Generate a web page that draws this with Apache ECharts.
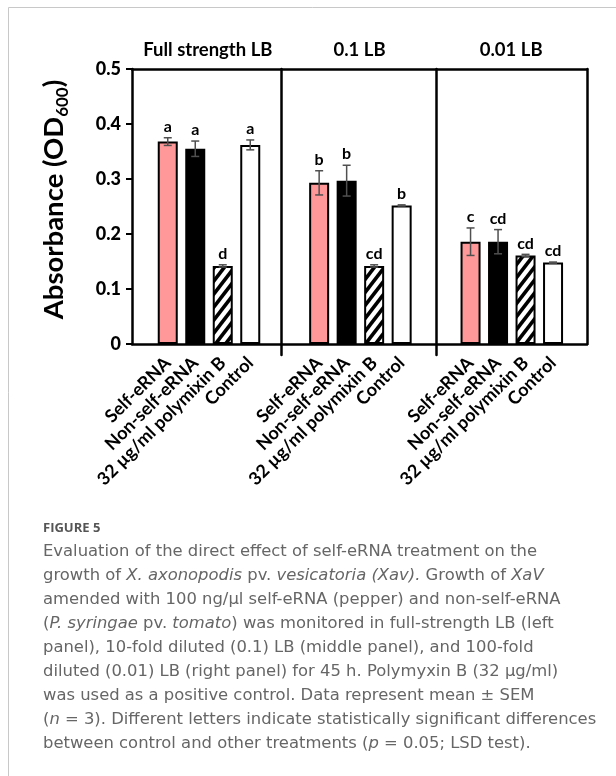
<!DOCTYPE html>
<html>
<head>
<meta charset="utf-8">
<script src="https://cdn.jsdelivr.net/npm/echarts@6/dist/echarts.min.js"></script>
<style>html,body{margin:0;padding:0;background:#fff;}#c{width:616px;height:776px;}</style>
</head>
<body>
<div id="c"></div>
<script>
const panels = ['Full strength LB', '0.1 LB', '0.01 LB'];
const treatments = ['Self-eRNA', 'Non-self-eRNA', '32 µg/ml polymixin B', 'Control'];
const fullLB = [0.368, 0.355, 0.142, 0.362];
const fullLBErr = [0.007, 0.014, 0.002, 0.009];
const fullLBLetters = ['a', 'a', 'd', 'a'];
const lb01 = [0.293, 0.297, 0.142, 0.252];
const lb01Err = [0.022, 0.028, 0.002, 0.001];
const lb01Letters = ['b', 'b', 'cd', 'b'];
const lb001 = [0.186, 0.186, 0.161, 0.148];
const lb001Err = [0.025, 0.022, 0.002, 0.001];
const lb001Letters = ['c', 'cd', 'cd', 'cd'];
const yMin = 0, yMax = 0.5, yStep = 0.1;

const panelValues = [fullLB, lb01, lb001];
const panelErrs = [fullLBErr, lb01Err, lb001Err];
const panelLetters = [fullLBLetters, lb01Letters, lb001Letters];

// hatch pattern
const pc = document.createElement('canvas');
pc.width = 10; pc.height = 13;
const g = pc.getContext('2d');
g.fillStyle = '#fff'; g.fillRect(0, 0, 10, 13);
g.strokeStyle = '#000'; g.lineWidth = 3.6; g.lineCap = 'square';
function seg(x1, y1, x2, y2) { g.beginPath(); g.moveTo(x1, y1); g.lineTo(x2, y2); g.stroke(); }
seg(0, 13, 10, 0);
seg(-10, 13, 10, -13);
seg(0, 26, 20, 0);
const hatch = { image: pc, repeat: 'repeat' };
const fills = ['#ff9999', '#000000', hatch, '#ffffff'];

const FONT = 'Lato';
const black = '#000';
const frameLine = { lineStyle: { color: black, width: 2.5 }, onZero: false };

const chart = echarts.init(document.getElementById('c'), null, { renderer: 'canvas' });

const grids = [
  { left: 132, right: 29, top: 69, bottom: 432, outerBoundsMode: 'none' },
  { left: 281, right: 29, top: 69, bottom: 421, outerBoundsMode: 'none' },
  { left: 436, right: 29, top: 69, bottom: 421, outerBoundsMode: 'none' }
];
const xAxes = [
  { gridIndex: 0, type: 'category', data: panels, position: 'top', axisLine: frameLine,
    axisTick: { show: false },
    axisLabel: { interval: 0, fontFamily: FONT, fontWeight: 'bold', fontSize: 18.5, color: black, margin: 9 },
    splitLine: { show: false } },
  { gridIndex: 0, type: 'category', data: panels, position: 'bottom', axisLine: frameLine,
    axisTick: { show: false }, axisLabel: { show: false }, splitLine: { show: false } },
  { gridIndex: 1, type: 'category', data: panels, show: false },
  { gridIndex: 2, type: 'category', data: panels, show: false }
];
const yAxes = [
  { gridIndex: 0, type: 'value', min: yMin, max: yMax, interval: yStep, position: 'left',
    axisLine: { show: true, onZero: false, lineStyle: { color: black, width: 2.5 } },
    axisTick: { show: true, length: 6, lineStyle: { color: black, width: 2 } },
    axisLabel: { fontFamily: FONT, fontWeight: 900, fontSize: 18, color: black, margin: 11,
      formatter: v => (v === 0 ? '0' : v.toFixed(1)) },
    splitLine: { show: false },
    name: '{a|Absorbance (OD}{s|600}{a|)}', nameLocation: 'middle', nameRotate: 90, nameGap: 61,
    nameTextStyle: { padding: [0, 0, 0, 14], rich: {
      a: { fontFamily: FONT, fontWeight: 'bold', fontSize: 27.5, color: black, lineHeight: 34 },
      s: { fontFamily: FONT, fontWeight: 'bold', fontSize: 17, color: black, lineHeight: 17, verticalAlign: 'bottom' }
    } } },
  { gridIndex: 0, type: 'value', min: yMin, max: yMax, interval: yStep, position: 'right',
    axisLine: { show: true, onZero: false, lineStyle: { color: black, width: 2.5 } },
    axisTick: { show: false }, axisLabel: { show: false }, splitLine: { show: false } },
  { gridIndex: 1, type: 'value', min: 0, max: 1, position: 'left',
    axisLine: { show: true, onZero: false, lineStyle: { color: black, width: 2.5 } },
    axisTick: { show: false }, axisLabel: { show: false }, splitLine: { show: false } },
  { gridIndex: 2, type: 'value', min: 0, max: 1, position: 'left',
    axisLine: { show: true, onZero: false, lineStyle: { color: black, width: 2.5 } },
    axisTick: { show: false }, axisLabel: { show: false }, splitLine: { show: false } }
];
const series = [];
for (let k = 0; k < 3; k++) {
  grids.push({ left: 154 + k * 151.4, width: 110, top: 69, bottom: 432, outerBoundsMode: 'none' });
  const gi = grids.length - 1;
  xAxes.push({ gridIndex: gi, type: 'category', data: treatments,
    axisLine: { show: false }, axisTick: { show: false }, splitLine: { show: false },
    axisLabel: { interval: 0, rotate: 45, fontFamily: FONT, fontWeight: 'bold', fontSize: 18, color: black, margin: 16 } });
  yAxes.push({ gridIndex: gi, type: 'value', min: yMin, max: yMax, show: false });
  const xi = xAxes.length - 1, yi = yAxes.length - 1;
  const vals = panelValues[k], errs = panelErrs[k], lets = panelLetters[k];
  series.push({
    type: 'bar', xAxisIndex: xi, yAxisIndex: yi, barWidth: 20,
    data: vals.map((v, i) => ({ value: v, itemStyle: { color: fills[i] } })),
    itemStyle: { borderColor: black, borderWidth: 2 }, z: 2
  });
  series.push({
    type: 'custom', xAxisIndex: xi, yAxisIndex: yi, z: 10,
    encode: { x: 0, y: 1 },
    data: vals.map((v, i) => [i, v, errs[i]]),
    renderItem: function (params, api) {
      const i = api.value(0), m = api.value(1), e = api.value(2);
      const t = api.coord([i, m + e]), b = api.coord([i, m - e]);
      const cap = 4;
      const st = { stroke: '#505050', lineWidth: 1.5 };
      return { type: 'group', children: [
        { type: 'line', shape: { x1: t[0], y1: t[1], x2: b[0], y2: b[1] }, style: st },
        { type: 'line', shape: { x1: t[0] - cap, y1: t[1], x2: t[0] + cap, y2: t[1] }, style: st },
        { type: 'line', shape: { x1: b[0] - cap, y1: b[1], x2: b[0] + cap, y2: b[1] }, style: st },
        { type: 'text', x: t[0], y: t[1] - 3, style: { text: lets[params.dataIndex], align: 'center', verticalAlign: 'bottom',
          fontFamily: FONT, fontWeight: 'bold', fontSize: 16, fill: black } }
      ] };
    }
  });
}

const capFont = '"DejaVu Sans"';
const capColor = '#666666';
const captionLines = [
  'Evaluation of the direct effect of self-eRNA treatment on the',
  'growth of {i|X. axonopodis} pv. {i|vesicatoria (Xav).} Growth of {i|XaV}',
  'amended with 100 ng/µl self-eRNA (pepper) and non-self-eRNA',
  '({i|P. syringae} pv. {i|tomato}) was monitored in full-strength LB (left',
  'panel), 10-fold diluted (0.1) LB (middle panel), and 100-fold',
  'diluted (0.01) LB (right panel) for 45 h. Polymyxin B (32 µg/ml)',
  'was used as a positive control. Data represent mean ± SEM',
  '({i|n} = 3). Different letters indicate statistically significant differences',
  'between control and other treatments ({i|p} = 0.05; LSD test).'
];

chart.setOption({
  animation: false,
  backgroundColor: '#fff',
  grid: grids, xAxis: xAxes, yAxis: yAxes, series: series,
  graphic: [
    { type: 'rect', shape: { x: 8.5, y: 7.5, width: 700, height: 800 }, style: { fill: 'none', stroke: '#c8c8c8', lineWidth: 1 }, silent: true },
    { type: 'text', x: 43, y: 528, style: { text: 'FIGURE 5', fontFamily: '"Open Sans"', fontWeight: 'bold', fontSize: 13, fill: '#555', verticalAlign: 'middle' } },
    { type: 'text', x: 43, y: 540, style: {
      text: captionLines.join('\n'), fontFamily: capFont, fontWeight: 'normal', fontSize: 16.4, fill: capColor, lineHeight: 24,
      rich: { i: { fontFamily: capFont, fontWeight: 'normal', fontSize: 16.4, fontStyle: 'italic', fill: capColor, lineHeight: 24 } }
    } }
  ]
});
</script>
</body>
</html>
